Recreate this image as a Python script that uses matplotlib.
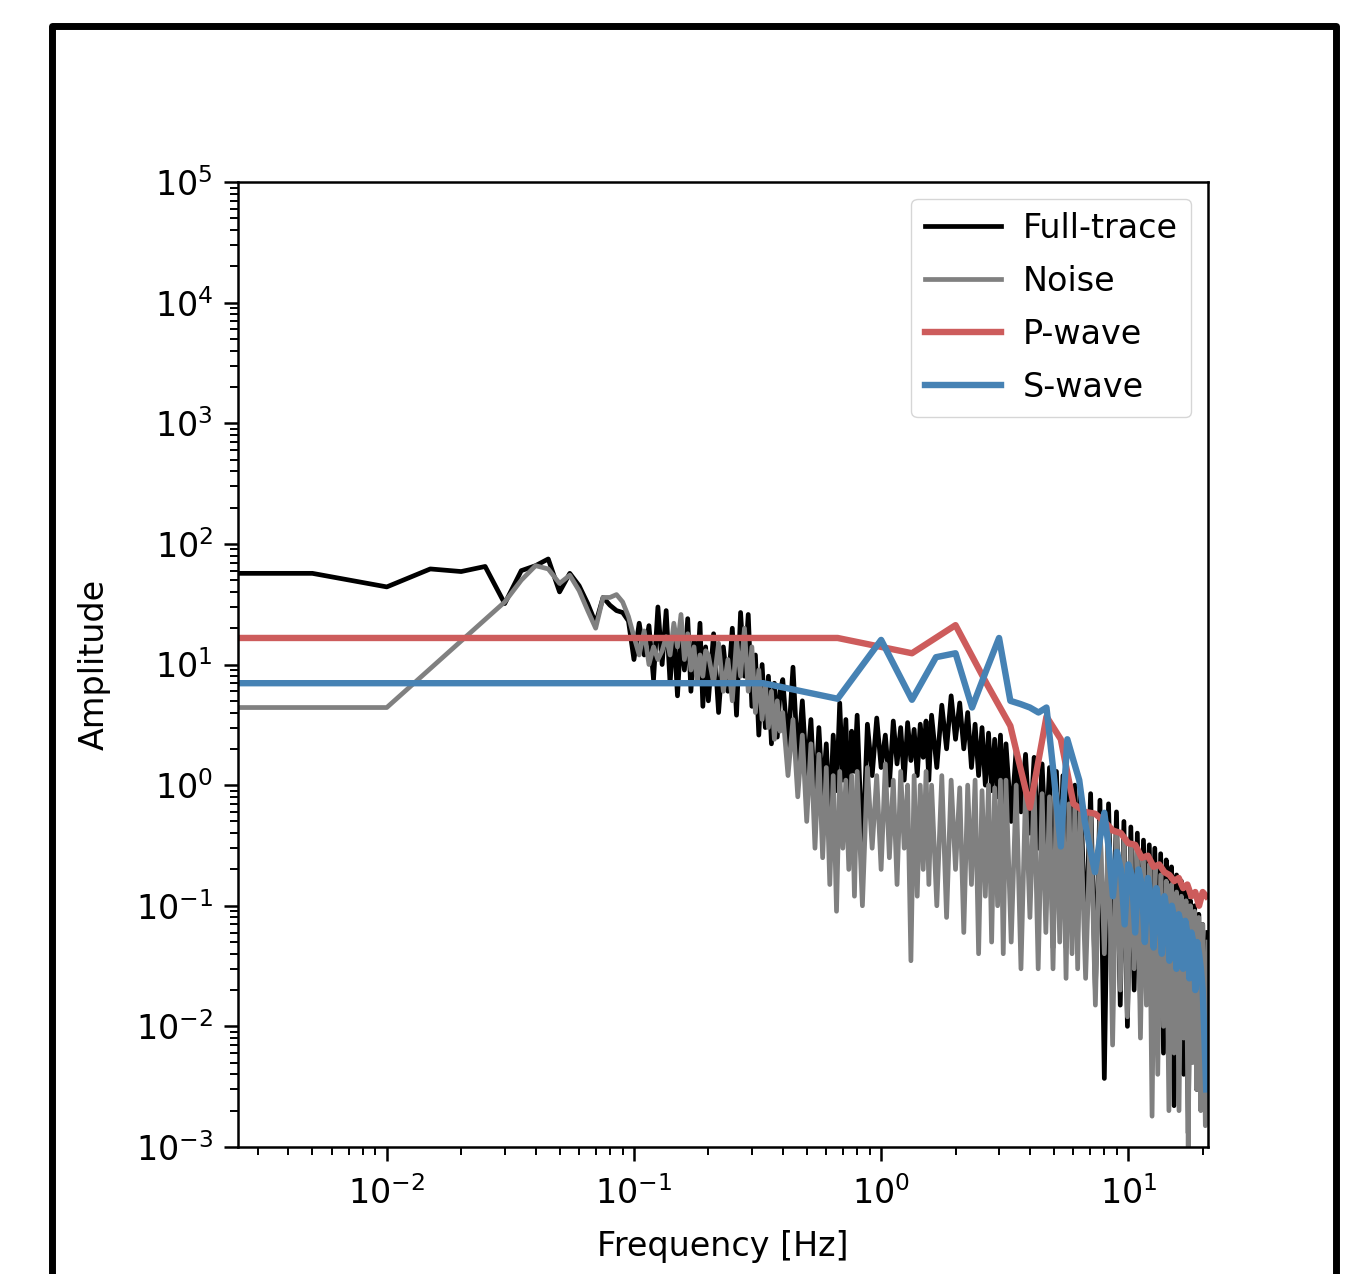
import numpy as np
import matplotlib
matplotlib.use("Agg")
from matplotlib import pyplot as plt
from matplotlib.patches import Rectangle
from matplotlib.ticker import LogLocator, NullFormatter

# ------------------------------------------------------------
# Data
# full trace, low frequency part
full_f_low = [0.0025, 0.005, 0.01, 0.015, 0.02, 0.025, 0.03, 0.035, 0.04, 0.045,
              0.05, 0.055, 0.06, 0.065, 0.07, 0.075, 0.08, 0.085, 0.09, 0.095]
full_a_low = [57, 57, 44, 62, 59, 65, 32, 60, 66, 75,
              40, 57, 45, 32, 22, 36, 31, 28, 27, 23]

# noise, low frequency part
noise_f_low = [0.0025, 0.01, 0.03, 0.035, 0.04, 0.045, 0.05, 0.055, 0.06,
               0.065, 0.07, 0.075, 0.08, 0.085, 0.09, 0.095]
noise_a_low = [4.4, 4.4, 33, 50, 66, 62, 47, 55, 41,
               28, 20, 36, 36, 38, 33, 25]

# dense part (shared frequency grid for full trace and noise)
f_dense = [0.100, 0.105, 0.110, 0.115, 0.120, 0.125, 0.130, 0.135, 0.140, 0.145,
           0.150, 0.155, 0.160, 0.165, 0.170, 0.175, 0.180, 0.185, 0.190, 0.195,
           0.20, 0.21, 0.22, 0.23, 0.24, 0.25, 0.26, 0.27, 0.28, 0.29,
           0.30, 0.31, 0.32, 0.33, 0.34, 0.35, 0.36, 0.37, 0.38, 0.39,
           0.40, 0.42, 0.44, 0.46, 0.48, 0.50, 0.52, 0.54, 0.56, 0.58,
           0.60, 0.62, 0.64, 0.66, 0.68, 0.70, 0.72, 0.74, 0.76, 0.78,
           0.80, 0.84, 0.88, 0.92, 0.96, 1.00, 1.04, 1.08, 1.12, 1.16,
           1.20, 1.24, 1.28, 1.32, 1.36, 1.40, 1.44, 1.48, 1.52, 1.56,
           1.60, 1.68, 1.76, 1.84, 1.92, 2.00, 2.08, 2.16, 2.24, 2.32,
           2.40, 2.48, 2.56, 2.64, 2.72, 2.80, 2.88, 2.96, 3.04, 3.12,
           3.20, 3.36, 3.52, 3.68, 3.84, 4.00, 4.16, 4.32, 4.48, 4.64,
           4.80, 4.96, 5.12, 5.28, 5.44, 5.60, 5.76, 5.92, 6.08, 6.24,
           6.40, 6.72, 7.04, 7.36, 7.68, 8.00, 8.32, 8.64, 8.96, 9.28,
           9.60, 9.92, 10.24, 10.56, 10.88, 11.20, 11.52, 11.84, 12.16, 12.48,
           12.80, 13.16, 13.52, 13.88, 14.24, 14.60, 14.96, 15.32, 15.68, 16.04,
           16.40, 16.76, 17.12, 17.48, 17.84, 18.20, 18.56, 18.92, 19.28, 19.64,
           20.00, 20.50, 21.00]
full_a_dense = [11, 22, 12, 21, 7.5, 30, 10, 28, 7, 20,
                5.5, 18, 9, 24, 6, 16, 8, 22, 4.5, 14,
                5, 18, 4, 14, 6, 20, 3.8, 27, 8, 26,
                4.5, 12, 2.6, 10, 3, 8, 2.2, 7, 2.5, 6,
                7.5, 2.0, 9.5, 1.6, 5, 1.2, 3.5, 0.7, 3, 0.8,
                2.2, 0.5, 2.6, 0.9, 4.8, 1.1, 3.5, 0.6, 2.8, 1.3,
                3.8, 0.25, 3.2, 1.2, 3.6, 1.4, 2.6, 1.0, 3.4, 1.5,
                3.0, 1.1, 3.3, 1.6, 2.9, 1.2, 3.2, 1.7, 3.4, 1.1,
                3.8, 1.4, 4.6, 2.0, 5.5, 2.4, 4.8, 2.0, 4.0, 1.4,
                3.2, 1.2, 3.0, 1.0, 2.7, 0.9, 2.4, 0.8, 2.6, 0.6,
                2.2, 0.5, 2.0, 0.6, 1.8, 0.4, 1.7, 0.3, 1.5, 0.3,
                1.4, 0.045, 1.3, 0.2, 1.2, 0.045, 1.1, 0.12, 1.0, 0.06,
                0.95, 0.05, 0.85, 0.02, 0.75, 0.0037, 0.7, 0.03, 0.6, 0.015,
                0.5, 0.01, 0.45, 0.02, 0.4, 0.015, 0.35, 0.03, 0.32, 0.02,
                0.3, 0.01, 0.27, 0.006, 0.24, 0.02, 0.21, 0.0022, 0.18, 0.008,
                0.16, 0.004, 0.13, 0.0013, 0.11, 0.006, 0.1, 0.003, 0.085, 0.004,
                0.07, 0.004, 0.06]
noise_a_dense = [17, 12, 19, 10, 14, 11, 13, 17, 12, 22,
                 14, 26, 11, 18, 9, 14, 7, 12, 8, 13,
                 12, 7, 15, 6, 11, 5, 16, 8, 20, 6,
                 14, 4, 9, 3.5, 7, 3, 6, 2.4, 5, 2.8,
                 4, 1.2, 3.5, 0.8, 2.6, 0.5, 2.2, 0.3, 1.8, 0.25,
                 1.4, 0.15, 1.2, 0.09, 1.3, 0.3, 1.1, 0.2, 1.2, 0.12,
                 1.3, 0.1, 1.4, 0.3, 1.2, 0.2, 1.5, 0.25, 1.1, 0.15,
                 1.3, 0.3, 1.0, 0.035, 1.2, 0.12, 1.0, 0.2, 1.3, 0.15,
                 1.0, 0.1, 1.2, 0.08, 1.1, 0.2, 0.95, 0.06, 1.0, 0.15,
                 1.1, 0.04, 0.9, 0.12, 1.0, 0.05, 0.95, 0.1, 1.1, 0.04,
                 1.1, 0.05, 1.0, 0.03, 0.9, 0.08, 1.0, 0.03, 0.85, 0.06,
                 0.8, 0.03, 0.85, 0.05, 0.75, 0.025, 0.7, 0.04, 0.65, 0.03,
                 0.6, 0.025, 0.55, 0.015, 0.5, 0.04, 0.45, 0.007, 0.4, 0.02,
                 0.35, 0.012, 0.32, 0.03, 0.28, 0.008, 0.25, 0.015, 0.22, 0.0018,
                 0.2, 0.004, 0.18, 0.01, 0.16, 0.002, 0.15, 0.006, 0.13, 0.002,
                 0.12, 0.008, 0.11, 0.001, 0.1, 0.005, 0.09, 0.003, 0.08, 0.002,
                 0.07, 0.0015, 0.05]

# P-wave spectrum
p_freq = [0.0025, 0.667, 1.333, 2.0, 2.667, 3.333, 4.0, 4.667, 5.333, 6.0,
          6.667, 7.333, 8.0, 8.667, 9.333, 10.0, 10.667, 11.333, 12.0, 12.667,
          13.333, 14.0, 14.667, 15.333, 16.0, 16.667, 17.333, 18.0, 18.667, 19.333,
          20.0, 20.667]
p_amp = [16.6, 16.6, 12.4, 21.2, 7.0, 3.1, 0.65, 3.7, 2.4, 0.7,
         0.6, 0.58, 0.5, 0.42, 0.4, 0.33, 0.32, 0.25, 0.26, 0.21,
         0.22, 0.19, 0.18, 0.16, 0.17, 0.14, 0.15, 0.12, 0.13, 0.1,
         0.13, 0.12]

# S-wave spectrum
s_freq = [0.0025, 0.333, 0.667, 1.0, 1.333, 1.667, 2.0, 2.333, 2.667, 3.0,
          3.333, 3.667, 4.0, 4.333, 4.667, 5.0, 5.333, 5.667, 6.0, 6.333,
          6.667, 7.0, 7.333, 7.667, 8.0, 8.333, 8.667, 9.0, 9.333, 9.667,
          10.0, 10.333, 10.667, 11.0, 11.333, 11.667, 12.0, 12.333, 12.667, 13.0,
          13.333, 13.667, 14.0, 14.333, 14.667, 15.0, 15.333, 15.667, 16.0, 16.333,
          16.667, 17.0, 17.333, 17.667, 18.0, 18.333, 18.667, 19.0, 19.333, 19.667,
          20.0, 20.333, 20.667]
s_amp = [7.0, 7.0, 5.2, 16, 5.1, 11.5, 12.4, 4.4, 9, 16.6,
         5.0, 4.7, 4.4, 4.0, 4.4, 1.2, 0.31, 2.4, 1.6, 1.1,
         0.5, 0.3, 0.19, 0.35, 0.59, 0.3, 0.12, 0.28, 0.2, 0.07,
         0.22, 0.18, 0.06, 0.2, 0.15, 0.05, 0.17, 0.12, 0.045, 0.14,
         0.1, 0.04, 0.12, 0.09, 0.035, 0.1, 0.08, 0.03, 0.085, 0.07,
         0.03, 0.075, 0.06, 0.025, 0.06, 0.05, 0.02, 0.05, 0.04, 0.03,
         0.02, 0.008, 0.003]

#-------------------------------------------------------------
# Plot
fs = 24
fig = plt.figure(figsize=(13.56, 12.74), dpi=100)
ax = fig.add_axes([0.1755, 0.0997, 0.7153, 0.7574])

ax.loglog(full_f_low + f_dense, full_a_low + full_a_dense,
          color='k', lw=3.4, label='Full-trace')
ax.loglog(noise_f_low + f_dense, noise_a_low + noise_a_dense,
          color='gray', lw=3.4, label='Noise')
ax.loglog(p_freq, p_amp, color='indianred', lw=4.6, label='P-wave')
ax.loglog(s_freq, s_amp, color='steelblue', lw=4.6, label='S-wave')

ax.set_xlim(0.0025, 21)
ax.set_ylim(1e-3, 1e5)
ax.yaxis.set_major_locator(LogLocator(base=10, numticks=20))
ax.yaxis.set_minor_locator(LogLocator(base=10, subs=np.arange(2, 10), numticks=20))
ax.yaxis.set_minor_formatter(NullFormatter())
ax.xaxis.set_minor_formatter(NullFormatter())

ax.tick_params(which='major', labelsize=fs, length=10, width=1.8, pad=8)
ax.tick_params(axis='x', which='major', pad=11)
ax.tick_params(which='minor', length=5.5, width=1.4)
for sp in ax.spines.values():
    sp.set_linewidth(1.8)

ax.set_xlabel('Frequency [Hz]', fontsize=fs, labelpad=14)
ax.set_ylabel('Amplitude', fontsize=fs, labelpad=18)
ax.legend(loc='upper right', fontsize=fs, handlelength=2.3,
          labelspacing=0.6, handletextpad=0.65)

# black frame around the whole picture
fig.patches.append(Rectangle((0.038, -0.05), 0.9476, 1.0296, transform=fig.transFigure,
                             fill=False, ec='black', lw=5, joinstyle='round'))

fig.savefig('out.png', dpi=100)
